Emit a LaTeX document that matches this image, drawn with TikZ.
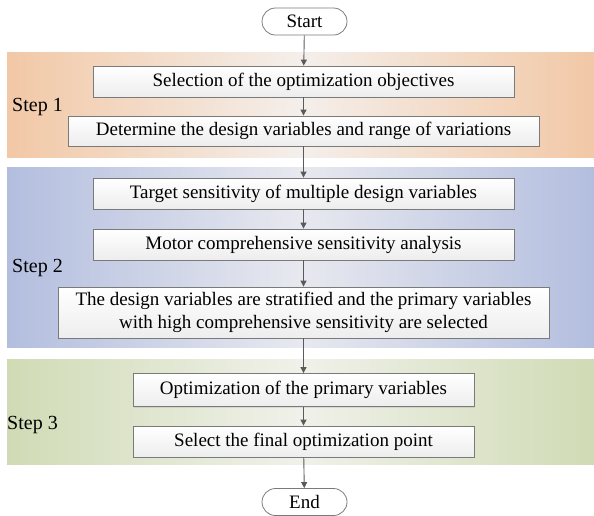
\documentclass[tikz,border=0pt]{standalone}
\usepackage{fontspec}
\setmainfont{Liberation Serif}
\usetikzlibrary{arrows.meta,shadows}
\definecolor{lineg}{HTML}{5A5A5A}
\definecolor{boxedge}{HTML}{7A7A7A}
\definecolor{orE}{HTML}{F2C8A6}
\definecolor{orM}{HTML}{F4EFEB}
\definecolor{blE}{HTML}{B3BEDF}
\definecolor{blM}{HTML}{E8E9EF}
\definecolor{grE}{HTML}{D0DBB5}
\definecolor{grM}{HTML}{F0F1EA}
\tikzset{
  band/.style={draw=none, inner sep=0pt, minimum width=587pt},
  stepbox/.style={draw=boxedge, line width=0.8pt, top color=white, bottom color=black!7,
    inner sep=0pt, align=center, font=\fontsize{19}{23.5}\selectfont,
    drop shadow={opacity=0.18, shadow xshift=1pt, shadow yshift=-1.2pt}},
  term/.style={draw=boxedge, line width=0.8pt, fill=white, rounded corners=13.5pt,
    minimum width=85pt, minimum height=27pt, inner sep=0pt, font=\fontsize{19}{22}\selectfont},
  steplabel/.style={anchor=west, inner sep=0pt, font=\fontsize{20}{24}\selectfont},
  flow/.style={draw=lineg, line width=0.9pt, -{Triangle[width=6pt,length=6pt]}}
}
\begin{document}
\begin{tikzpicture}[x=1pt,y=-1pt]
\useasboundingbox (0,0) rectangle (594,515);
% bands
\node[band, minimum height=105pt, left color=orE, right color=orE, middle color=orM] (b1) at (300.5,104.5) {};
\node[band, minimum height=180pt, left color=blE, right color=blE, middle color=blM] (b2) at (300.5,257) {};
\node[band, minimum height=105pt, left color=grE, right color=grE, middle color=grM] (b3) at (300.5,411.5) {};
% step labels
\node[steplabel] (l1) at (12,107) {Step 1};
\node[steplabel] (l2) at (12,268) {Step 2};
\node[steplabel] (l3) at (7,425) {Step 3};
% terminals
\node[term] (start) at (304.5,21.5) {Start};
\node[term] (end) at (304.5,502) {End};
% boxes
\node[stepbox, minimum width=421pt, minimum height=31pt] (n1) at (303.5,81.5) {Selection of the optimization objectives};
\node[stepbox, minimum width=471pt, minimum height=30pt] (n2) at (303.5,131) {Determine the design variables and range of variations};
\node[stepbox, minimum width=421pt, minimum height=31pt] (n3) at (303.5,193.5) {Target sensitivity of multiple design variables};
\node[stepbox, minimum width=421pt, minimum height=31pt] (n4) at (303.5,244.5) {Motor comprehensive sensitivity analysis};
\node[stepbox, minimum width=491pt, minimum height=51pt] (n5) at (303.5,312.5) {The design variables are stratified and the primary variables\\with high comprehensive sensitivity are selected};
\node[stepbox, minimum width=341pt, minimum height=33pt] (n6) at (303.5,390) {Optimization of the primary variables};
\node[stepbox, minimum width=341pt, minimum height=31pt] (n7) at (303.5,441.5) {Select the final optimization point};
% connectors
\draw[flow] (start) -- (n1);
\draw[flow] (n1) -- (n2);
\draw[flow] (n2) -- (n3);
\draw[flow] (n3) -- (n4);
\draw[flow] (n4) -- (n5);
\draw[flow] (n5) -- (n6);
\draw[flow] (n6) -- (n7);
\draw[flow] (n7) -- (end);
\end{tikzpicture}
\end{document}
